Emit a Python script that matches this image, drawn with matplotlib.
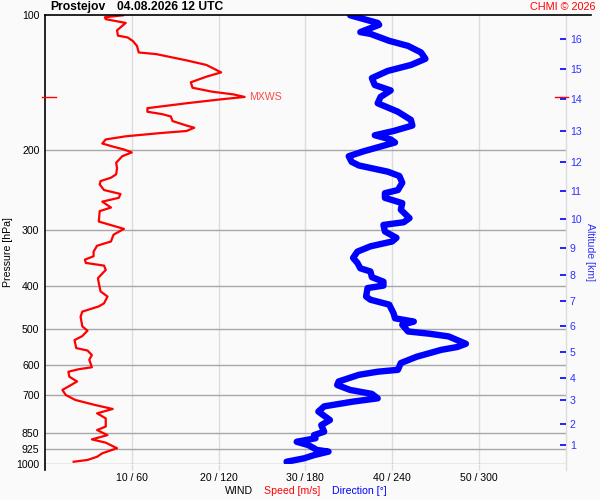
import matplotlib
matplotlib.use('Agg')
import matplotlib.pyplot as plt
import matplotlib.ticker as mticker

# wind speed profile (pressure hPa, speed m/s)
speed_p = [100, 101, 102, 104, 108, 111, 112, 114, 117, 121, 122, 126, 129, 134, 137, 141, 145, 148, 150, 152,
           154, 157, 161, 164, 166, 168, 172, 176, 178, 181, 183, 186, 189, 193, 196, 199, 202, 206, 213, 219,
           226, 230, 234, 238, 245, 250, 255, 260, 268, 273, 288, 291, 299, 308, 319, 326, 336, 344, 350, 356,
           361, 369, 385, 395, 412, 423, 438, 445, 457, 469, 493, 504, 518, 529, 551, 558, 571, 585, 608, 614,
           622, 638, 654, 671, 683, 701, 719, 738, 753, 770, 790, 824, 839, 861, 880, 895, 921, 945, 962, 978, 987]
speed = [9.0, 6.9, 7.0, 9.3, 8.3, 8.4, 9.5, 10.1, 10.6, 10.8, 12.8, 16.3, 18.6, 20.3, 18.6, 16.8, 17.0, 19.3, 21.7, 23.0,
         20.1, 16.3, 11.8, 11.8, 13.5, 14.5, 14.7, 16.3, 17.2, 16.3, 13.2, 9.3, 7.0, 6.6, 7.8, 9.1, 10.0, 8.9, 8.2, 8.3,
         8.2, 7.6, 6.4, 6.3, 6.8, 8.7, 8.5, 6.6, 7.6, 6.3, 6.2, 7.0, 9.1, 7.9, 7.6, 6.0, 5.6, 5.6, 4.6, 4.7,
         6.8, 7.0, 6.1, 6.2, 6.4, 7.2, 6.8, 6.2, 4.3, 4.1, 4.3, 4.9, 4.3, 3.4, 3.6, 4.9, 5.4, 5.1, 5.4, 3.9,
         2.7, 2.8, 3.7, 2.7, 2.0, 2.4, 3.5, 5.8, 7.8, 6.0, 7.0, 7.0, 6.0, 7.2, 5.4, 7.0, 8.3, 6.6, 6.0, 4.9, 3.3]

# wind direction profile (pressure hPa, direction deg)
dir_p = [100, 104, 105, 109, 110, 114, 117, 121, 125, 129, 133, 138, 143, 147, 152, 157, 164, 171, 176, 181,
         185, 189, 192, 196, 201, 206, 212, 216, 223, 228, 236, 245, 249, 255, 262, 271, 283, 289, 293, 303,
         313, 319, 327, 336, 347, 356, 366, 372, 383, 392, 400, 405, 423, 430, 441, 461, 473, 481, 489, 506,
         512, 519, 539, 548, 556, 576, 595, 616, 622, 632, 654, 666, 683, 697, 713, 725, 743, 763, 797, 818,
         846, 861, 875, 891, 906, 929, 937, 954, 970, 987]
direction = [211, 230, 231, 218, 225, 238, 251, 260, 263, 253, 237, 226, 228, 239, 232, 230, 244, 253, 254, 241,
             228, 239, 242, 232, 220, 210, 212, 217, 237, 245, 247, 244, 235, 235, 247, 246, 252, 248, 234, 235,
             243, 240, 225, 216, 213, 216, 218, 225, 226, 234, 234, 223, 222, 225, 238, 241, 242, 255, 247, 251,
             266, 279, 291, 285, 274, 257, 246, 244, 230, 217, 203, 202, 211, 226, 230, 213, 193, 189, 197, 191,
             193, 186, 187, 174, 182, 188, 196, 186, 179, 167]

p_levels = [100, 200, 300, 400, 500, 600, 700, 850, 925, 1000]
speed_ticks = [10, 20, 30, 40, 50]
speed_labels = ['10 / 60', '20 / 120', '30 / 180', '40 / 240', '50 / 300']
alt_km = list(range(1, 17))
alt_p = [907, 813, 720, 641, 561, 491, 432, 378, 329, 284, 246, 212, 181, 154, 132, 113]

plt.rcParams['font.family'] = ['Liberation Sans', 'DejaVu Sans']
bg = '#fafafa'
fs = 7.6

fig = plt.figure(figsize=(6, 5), dpi=100, facecolor=bg)
ax = fig.add_axes([45 / 600, 1 - 464.3 / 500, 520.7 / 600, 449 / 500])
ax.set_facecolor(bg)
ax.set_yscale('log')
ax.set_xlim(0, 60)
ax.set_ylim(1000, 100)

# grid
for p in p_levels[1:]:
    ax.axhline(p, color='#a8a8a8', lw=1, zorder=1)
for s in speed_ticks:
    ax.axvline(s, color='#dcdcdc', lw=1, zorder=0.5)

ax.plot(speed, speed_p, color='#ff0000', lw=1.6, zorder=3)
ax.plot([d / 6.0 for d in direction], dir_p, color='#0000ff', lw=4.6,
        solid_capstyle='round', solid_joinstyle='round', zorder=3)

# ticks
ax.set_yticks(p_levels)
ax.set_yticklabels([str(p) for p in p_levels])
ax.yaxis.set_minor_locator(mticker.NullLocator())
ax.tick_params(axis='y', length=0, pad=4, labelsize=fs)
ax.set_xticks(speed_ticks)
ax.set_xticklabels(speed_labels)
ax.tick_params(axis='x', length=4.2, color='#dcdcdc', width=1, pad=2, labelsize=fs)
for sp in ax.spines.values():
    sp.set_visible(False)

# frame lines
ax.plot([0, 0], [-0.0127, 1], transform=ax.transAxes, color='black', lw=1.2, clip_on=False, zorder=4)
ax.plot([0, 1.0486], [1, 1], transform=ax.transAxes, color='black', lw=1.2, clip_on=False, zorder=4)
ax.plot([1, 1], [-0.0127, 1], transform=ax.transAxes, color='#dcdcdc', lw=1, clip_on=False, zorder=1)

# altitude axis
ax2 = ax.twinx()
ax2.set_yscale('log')
ax2.set_ylim(1000, 100)
ax2.set_yticks(alt_p)
ax2.set_yticklabels([str(k) for k in alt_km])
ax2.yaxis.set_minor_locator(mticker.NullLocator())
ax2.tick_params(axis='y', direction='in', length=4.5, width=1.2, color='#0000ff',
                labelcolor='#3030ff', pad=3, labelsize=fs)
for sp in ax2.spines.values():
    sp.set_visible(False)

# max wind speed marker
imax = speed.index(max(speed))
pmax = speed_p[imax]
yt = ax.get_yaxis_transform()
ax.plot([-0.0058, 0.0211], [pmax, pmax], transform=yt, color='#ff0000', lw=1, clip_on=False, zorder=4)
ax.plot([0.9795, 1.0044], [pmax, pmax], transform=yt, color='#ff0000', lw=1, clip_on=False, zorder=4)
ax.annotate('MXWS', xy=(speed[imax], pmax), xytext=(3, 0), textcoords='offset points',
            color='#ff4848', fontsize=fs, va='center', ha='left')

# texts
fig.text(50 / 600, 1 - 7 / 500, 'Prostejov', weight='bold', fontsize=8.7, va='center')
fig.text(116.7 / 600, 1 - 7 / 500, '04.08.2026 12 UTC', weight='bold', fontsize=8.7, va='center')
fig.text(596 / 600, 1 - 7 / 500, 'CHMI \u00a9 2026', color='#ff0000', fontsize=7.8, va='center', ha='right')
fig.text(8 / 600, 1 - 252 / 500, 'Pressure [hPa]', rotation=90, fontsize=fs, va='center', ha='center')
fig.text(590 / 600, 1 - 252 / 500, 'Altitude [km]', rotation=270, color='#3030ff', fontsize=fs,
         va='center', ha='center')
fig.text(225 / 600, 1 - 490.7 / 500, 'WIND', fontsize=fs, va='center')
fig.text(264.3 / 600, 1 - 490.7 / 500, 'Speed [m/s]', color='#ff0000', fontsize=fs, va='center')
fig.text(332.3 / 600, 1 - 490.7 / 500, 'Direction [\u00b0]', color='#0000ff', fontsize=fs, va='center')

fig.savefig('out.png', dpi=100, facecolor=bg)
